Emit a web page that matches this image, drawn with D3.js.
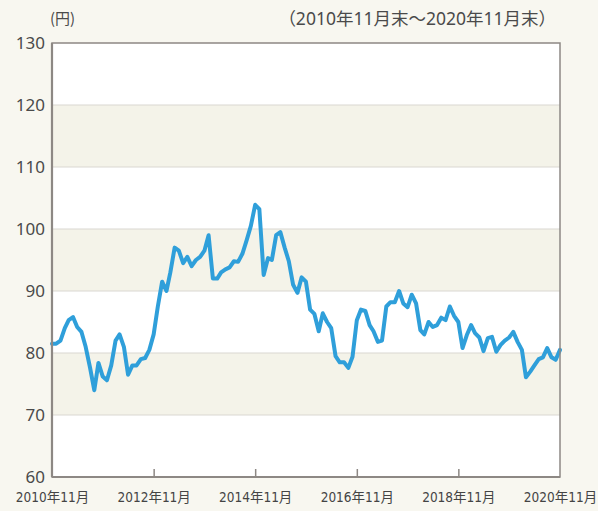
<!DOCTYPE html>
<html>
<head>
<meta charset="utf-8">
<script src="https://cdn.jsdelivr.net/npm/d3@7"></script>
<style>
  html, body { margin: 0; padding: 0; background: #f8f7f0; }
  svg { display: block; }
</style>
</head>
<body>
<div id="chart"></div>
<script>
// monthly values, 2010-11 .. 2020-11 (month-end, yen)
const startDate = new Date(2010, 10, 1);
const values = [
  81.5, 81.5, 82, 84, 85.3, 85.8, 84.2, 83.4, 81, 77.7,
  74, 78.4, 76.2, 75.6, 78, 82, 83, 81, 76.5, 78,
  78, 79, 79.2, 80.5, 83, 87.5, 91.5, 90, 93, 97,
  96.5, 94.5, 95.5, 94, 95, 95.5, 96.5, 99, 92, 92,
  93, 93.5, 93.8, 94.8, 94.7, 96, 98.2, 100.5, 103.9, 103.2,
  92.6, 95.3, 95, 99, 99.5, 97, 94.8, 91, 89.7, 92.2,
  91.5, 87, 86.3, 83.5, 86.4, 85, 84, 79.5, 78.5, 78.5,
  77.6, 79.4, 85.3, 87, 86.8, 84.5, 83.5, 81.8, 82, 87.5,
  88.2, 88.2, 90, 88, 87.4, 89.4, 88, 83.7, 83, 85,
  84.2, 84.5, 85.7, 85.3, 87.5, 86, 85, 80.8, 82.9, 84.5,
  83.2, 82.5, 80.3, 82.4, 82.6, 80.2, 81.3, 82, 82.5, 83.4,
  81.8, 80.5, 76.1, 77, 78, 79, 79.3, 80.8, 79.3, 78.9,
  80.5
];
const yTicks = [60, 70, 80, 90, 100, 110, 120, 130];
const bandRanges = [[70, 80], [90, 100], [110, 120]];
const xTickYears = [2010, 2012, 2014, 2016, 2018, 2020];
const unitLabel = "(円)";
const periodLabel = "（2010年11月末～2020年11月末）";

const data = values.map((v, i) => ({ date: d3.timeMonth.offset(startDate, i), value: v }));

const width = 598, height = 511;
const margin = { top: 43, right: 38, bottom: 34, left: 52 };
const w = width - margin.left - margin.right;
const h = height - margin.top - margin.bottom;

const svg = d3.select("#chart").append("svg")
  .attr("width", width)
  .attr("height", height);

const g = svg.append("g")
  .attr("transform", "translate(" + margin.left + "," + margin.top + ")");

const x = d3.scaleTime()
  .domain([startDate, new Date(2020, 10, 1)])
  .range([0, w]);

const y = d3.scaleLinear()
  .domain([60, 130])
  .range([h, 0]);

// plot background + bands
g.append("rect").attr("width", w).attr("height", h).attr("fill", "#ffffff");
g.selectAll(".band")
  .data(bandRanges)
  .enter()
  .append("rect")
  .attr("x", 0)
  .attr("y", d => y(d[1]))
  .attr("width", w)
  .attr("height", d => y(d[0]) - y(d[1]))
  .attr("fill", "#f4f3e9");

// grid lines
g.selectAll(".grid")
  .data(yTicks.slice(1, -1))
  .enter()
  .append("line")
  .attr("x1", 0).attr("x2", w)
  .attr("y1", d => y(d)).attr("y2", d => y(d))
  .attr("stroke", "#d9d7d1")
  .attr("stroke-width", 1.2);

// line
const line = d3.line()
  .x(d => x(d.date))
  .y(d => y(d.value));

g.append("path")
  .datum(data)
  .attr("fill", "none")
  .attr("stroke", "#2f9fda")
  .attr("stroke-width", 4)
  .attr("stroke-linejoin", "round")
  .attr("stroke-linecap", "round")
  .attr("d", line);

// frame
g.append("rect")
  .attr("width", w).attr("height", h)
  .attr("fill", "none")
  .attr("stroke", "#8d8884")
  .attr("stroke-width", 1.5);
g.append("line")
  .attr("x1", 0).attr("x2", 0).attr("y1", 0).attr("y2", h)
  .attr("stroke", "#8d8884").attr("stroke-width", 2.2);
g.append("line")
  .attr("x1", 0).attr("x2", w).attr("y1", h).attr("y2", h)
  .attr("stroke", "#8d8884").attr("stroke-width", 2.2);

// x axis
const xAxis = g.append("g")
  .attr("transform", "translate(0," + h + ")")
  .call(d3.axisBottom(x)
    .tickValues(xTickYears.map(yr => new Date(yr, 10, 1)))
    .tickSize(-8)
    .tickPadding(15)
    .tickFormat(d => d.getFullYear() + "年11月"));
xAxis.select(".domain").remove();
xAxis.selectAll(".tick line")
  .attr("stroke", "#8d8884")
  .attr("stroke-width", 1.5)
  .filter((d, i, n) => i === 0 || i === n.length - 1).remove();
xAxis.selectAll("text")
  .attr("fill", "#444")
  .style("font-family", "'DejaVu Sans Condensed', 'Noto Sans CJK JP', sans-serif")
  .style("font-size", "13.5px");

// y axis
const yAxis = g.append("g")
  .call(d3.axisLeft(y).tickValues(yTicks).tickSize(0).tickPadding(7));
yAxis.select(".domain").remove();
yAxis.selectAll("text")
  .attr("fill", "#4a4a4a")
  .style("font-family", "'Noto Sans', sans-serif")
  .style("font-size", "17px");

// labels
svg.append("text")
  .attr("x", 50).attr("y", 24)
  .attr("fill", "#4a4a4a")
  .style("font-family", "'Noto Sans CJK JP', sans-serif")
  .style("font-size", "15px")
  .text(unitLabel);

svg.append("text")
  .attr("x", 556).attr("y", 25)
  .attr("text-anchor", "end")
  .attr("fill", "#4a4a4a")
  .style("font-family", "'Noto Sans', 'Noto Sans CJK JP', sans-serif")
  .style("font-size", "17.5px")
  .text(periodLabel);
</script>
</body>
</html>
